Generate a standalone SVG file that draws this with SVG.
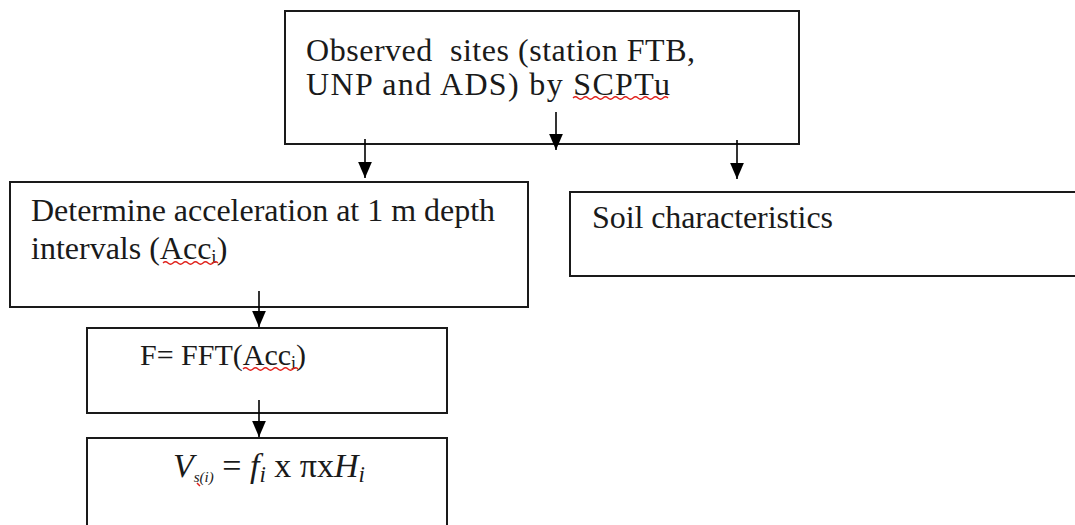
<svg xmlns="http://www.w3.org/2000/svg" width="1075" height="525" viewBox="0 0 1075 525">
<style>
.box{fill:#fff;stroke:#1a1a1a;stroke-width:2}
.t{font-family:"Liberation Serif","Times New Roman",serif;font-size:32px;fill:#1a1a1a}
.sq{fill:none;stroke:#e0201a;stroke-width:1.3}
.c{stroke:#000;stroke-width:1.6;fill:none}
</style>
<defs>
<marker id="ah" markerUnits="userSpaceOnUse" markerWidth="16" markerHeight="14" refX="14" refY="6" orient="auto" viewBox="0 0 14 12">
<path d="M0,0 L14,6 L0,12 Z" fill="#000"/>
</marker>
</defs>
<rect width="1075" height="525" fill="#fff"/>
<g id="observed">
<rect class="box" x="285" y="11" width="514" height="133"/>
<text class="t" x="306" y="61" textLength="389" lengthAdjust="spacing" xml:space="preserve">Observed  sites (station FTB,</text>
<text class="t" x="306" y="95" textLength="364" lengthAdjust="spacing">UNP and ADS) by SCPTu</text>
<path class="sq" d="M573,98 q2.5,-2.5 5,0 t5,0 t5,0 t5,0 t5,0 t5,0 t5,0 t5,0 t5,0 t5,0 t5,0 t5,0 t5,0 t5,0 t5,0 t5,0 t5,0 t5,0 t5,0"/>
</g>
<g id="acceleration">
<rect class="box" x="10" y="182" width="518" height="125"/>
<text class="t" x="31" y="221" textLength="464" lengthAdjust="spacing">Determine acceleration at 1 m depth</text>
<text class="t" x="31" y="259">intervals (Acc<tspan style="font-size:19px" dy="4">i</tspan><tspan dy="-4">)</tspan></text>
<path class="sq" d="M163,263 q2.5,-2.5 5,0 t5,0 t5,0 t5,0 t5,0 t5,0 t5,0 t5,0 t5,0 t5,0 t5,0"/>
</g>
<g id="soil">
<rect class="box" x="570" y="192" width="507" height="84"/>
<text class="t" x="592" y="228" textLength="241" lengthAdjust="spacing">Soil characteristics</text>
</g>
<g id="fft">
<rect class="box" x="87" y="328" width="360" height="85"/>
<text class="t" x="140" y="365" style="font-size:30px">F= FFT(Acc<tspan style="font-size:18px" dy="4">i</tspan><tspan dy="-4">)</tspan></text>
<path class="sq" d="M243,369 q2.5,-2.5 5,0 t5,0 t5,0 t5,0 t5,0 t5,0 t5,0 t5,0 t5,0 t5,0 t5,0"/>
</g>
<g id="velocity">
<rect class="box" x="87" y="438" width="360" height="90"/>
<text class="t" x="173" y="477" style="font-size:34px"><tspan font-style="italic">V</tspan><tspan style="font-size:15px" dy="5" font-style="italic">s(i)</tspan><tspan dy="-5" xml:space="preserve"> = </tspan><tspan font-style="italic">f</tspan><tspan style="font-size:23px" dy="5" font-style="italic">i</tspan><tspan dy="-5" xml:space="preserve"> x πx</tspan><tspan font-style="italic">H</tspan><tspan style="font-size:23px" dy="5" font-style="italic">i</tspan></text>
<path d="M197,483 l3,3" stroke="#e0201a" stroke-width="1.5"/>
</g>
<g id="connectors">
<line class="c" x1="365" y1="139" x2="365" y2="178" marker-end="url(#ah)"/>
<line class="c" x1="556" y1="112" x2="556" y2="150" marker-end="url(#ah)"/>
<line class="c" x1="737" y1="140" x2="737" y2="179" marker-end="url(#ah)"/>
<line class="c" x1="259" y1="291" x2="259" y2="327" marker-end="url(#ah)"/>
<line class="c" x1="259" y1="400" x2="259" y2="437" marker-end="url(#ah)"/>
</g>
</svg>
